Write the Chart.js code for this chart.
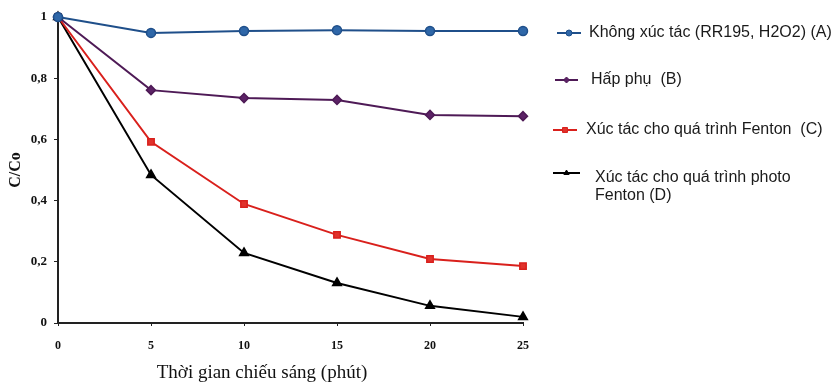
<!DOCTYPE html>
<html>
<head>
<meta charset="utf-8">
<script src="https://cdn.jsdelivr.net/npm/chart.js@4/dist/chart.umd.min.js"></script>
<style>
  html, body { margin: 0; padding: 0; background: #fff; }
  #wrap { width: 840px; height: 385px; position: relative; }
</style>
</head>
<body>
<div id="wrap"><canvas id="c" width="840" height="385"></canvas></div>
<script>
// Irradiation time (minutes)
const times = [0, 5, 10, 15, 20, 25];

// C/Co for each experiment
const seriesA = [1, 0.948, 0.954, 0.957, 0.954, 0.954];
const seriesB = [1, 0.761, 0.735, 0.729, 0.680, 0.676];
const seriesC = [1, 0.592, 0.389, 0.288, 0.209, 0.186];
const seriesD = [1, 0.484, 0.229, 0.131, 0.056, 0.020];

const labelA = 'Không xúc tác (RR195, H2O2) (A)';
const labelB = 'Hấp phụ  (B)';
const labelC = 'Xúc tác cho quá trình Fenton  (C)';
const labelD = ['Xúc tác cho quá trình photo', 'Fenton (D)'];

const yTicks = [0, 0.2, 0.4, 0.6, 0.8, 1];
const xTitle = 'Thời gian chiếu sáng (phút)';
const yTitle = 'C/Co';

const toPoints = vals => vals.map((v, i) => ({ x: times[i], y: v }));

const SERIF = '"Liberation Serif", "Times New Roman", serif';

// Legend to the right of the plot plus the x-axis caption
const decorations = {
  id: 'decorations',
  afterDraw(chart) {
    const ctx = chart.ctx;
    const spots = [
      { x0: 557, x1: 581, ty: 33, tx: 589 },
      { x0: 555, x1: 578, ty: 80, tx: 591 },
      { x0: 553, x1: 577, ty: 130, tx: 586 },
      { x0: 553, x1: 580, ty: 178, tx: 595, my: 173, lh: 18 }
    ];
    ctx.save();
    chart.data.datasets.forEach((ds, i) => {
      const s = spots[i];
      const my = s.my || s.ty;
      ctx.strokeStyle = ds.borderColor;
      ctx.lineWidth = 2;
      ctx.beginPath();
      ctx.moveTo(s.x0, my);
      ctx.lineTo(s.x1, my);
      ctx.stroke();
      ctx.fillStyle = ds.pointBackgroundColor;
      ctx.strokeStyle = ds.borderColor;
      ctx.lineWidth = 1;
      Chart.helpers.drawPoint(ctx, {
        pointStyle: ds.pointStyle,
        radius: ds.pointStyle === 'rect' ? 3.5 : 3,
        borderWidth: 1
      }, (s.x0 + s.x1) / 2, my);
      ctx.fillStyle = '#1a1a1a';
      ctx.font = '16px "Liberation Sans", Arial, sans-serif';
      ctx.textBaseline = 'middle';
      ctx.textAlign = 'left';
      const lines = Array.isArray(ds.label) ? ds.label : [ds.label];
      lines.forEach((t, k) => ctx.fillText(t, s.tx, s.ty + k * (s.lh || 0)));
    });
    // x-axis caption
    ctx.fillStyle = '#111';
    ctx.font = '19px ' + SERIF;
    ctx.textAlign = 'center';
    ctx.textBaseline = 'middle';
    ctx.fillText(xTitle, 262, 373);
    ctx.restore();
  }
};

const mk = (label, data, color, fill, style, r) => ({
  label, data: toPoints(data),
  borderColor: color, backgroundColor: fill,
  pointBackgroundColor: fill, pointBorderColor: color,
  pointStyle: style, pointRadius: r, pointBorderWidth: 1.5,
  borderWidth: 2, tension: 0, clip: false
});

new Chart(document.getElementById('c'), {
  type: 'line',
  data: {
    datasets: [
      mk(labelA, seriesA, '#1f4f8a', '#2f67a8', 'circle', 4.5),
      mk(labelB, seriesB, '#4e1a56', '#5c2266', 'rectRot', 4.5),
      mk(labelC, seriesC, '#d9201c', '#e0322c', 'rect', 4.5),
      mk(labelD, seriesD, '#000000', '#000000', 'triangle', 5)
    ]
  },
  options: {
    responsive: false,
    animation: false,
    devicePixelRatio: 1,
    layout: { padding: { left: 0, top: 17, right: 317, bottom: 0 } },
    plugins: { legend: { display: false }, tooltip: { enabled: false } },
    scales: {
      x: {
        type: 'linear', min: 0, max: 25,
        afterBuildTicks: s => { s.ticks = times.map(v => ({ value: v })); },
        afterFit: s => { s.height = 62; },
        grid: { drawOnChartArea: false, drawTicks: true, tickLength: 3, color: '#222' },
        border: { color: '#222', width: 2 },
        ticks: {
          color: '#111', padding: 13,
          font: { family: SERIF, weight: 'bold', size: 12 }
        },
        title: { display: false, text: xTitle }
      },
      y: {
        min: 0, max: 1,
        afterBuildTicks: s => { s.ticks = yTicks.map(v => ({ value: v })); },
        afterFit: s => { s.width = 58; },
        grid: { drawOnChartArea: false, drawTicks: true, tickLength: 4, color: '#222' },
        border: { color: '#222', width: 2 },
        ticks: {
          color: '#111', padding: 7,
          callback: v => String(Math.round(v * 10) / 10).replace('.', ','),
          font: { family: SERIF, weight: 'bold', size: 13 }
        },
        title: {
          display: true, text: yTitle, color: '#111', padding: { top: 6, bottom: 0 },
          font: { family: SERIF, weight: 'bold', size: 16 }
        }
      }
    }
  },
  plugins: [decorations]
});
</script>
</body>
</html>
